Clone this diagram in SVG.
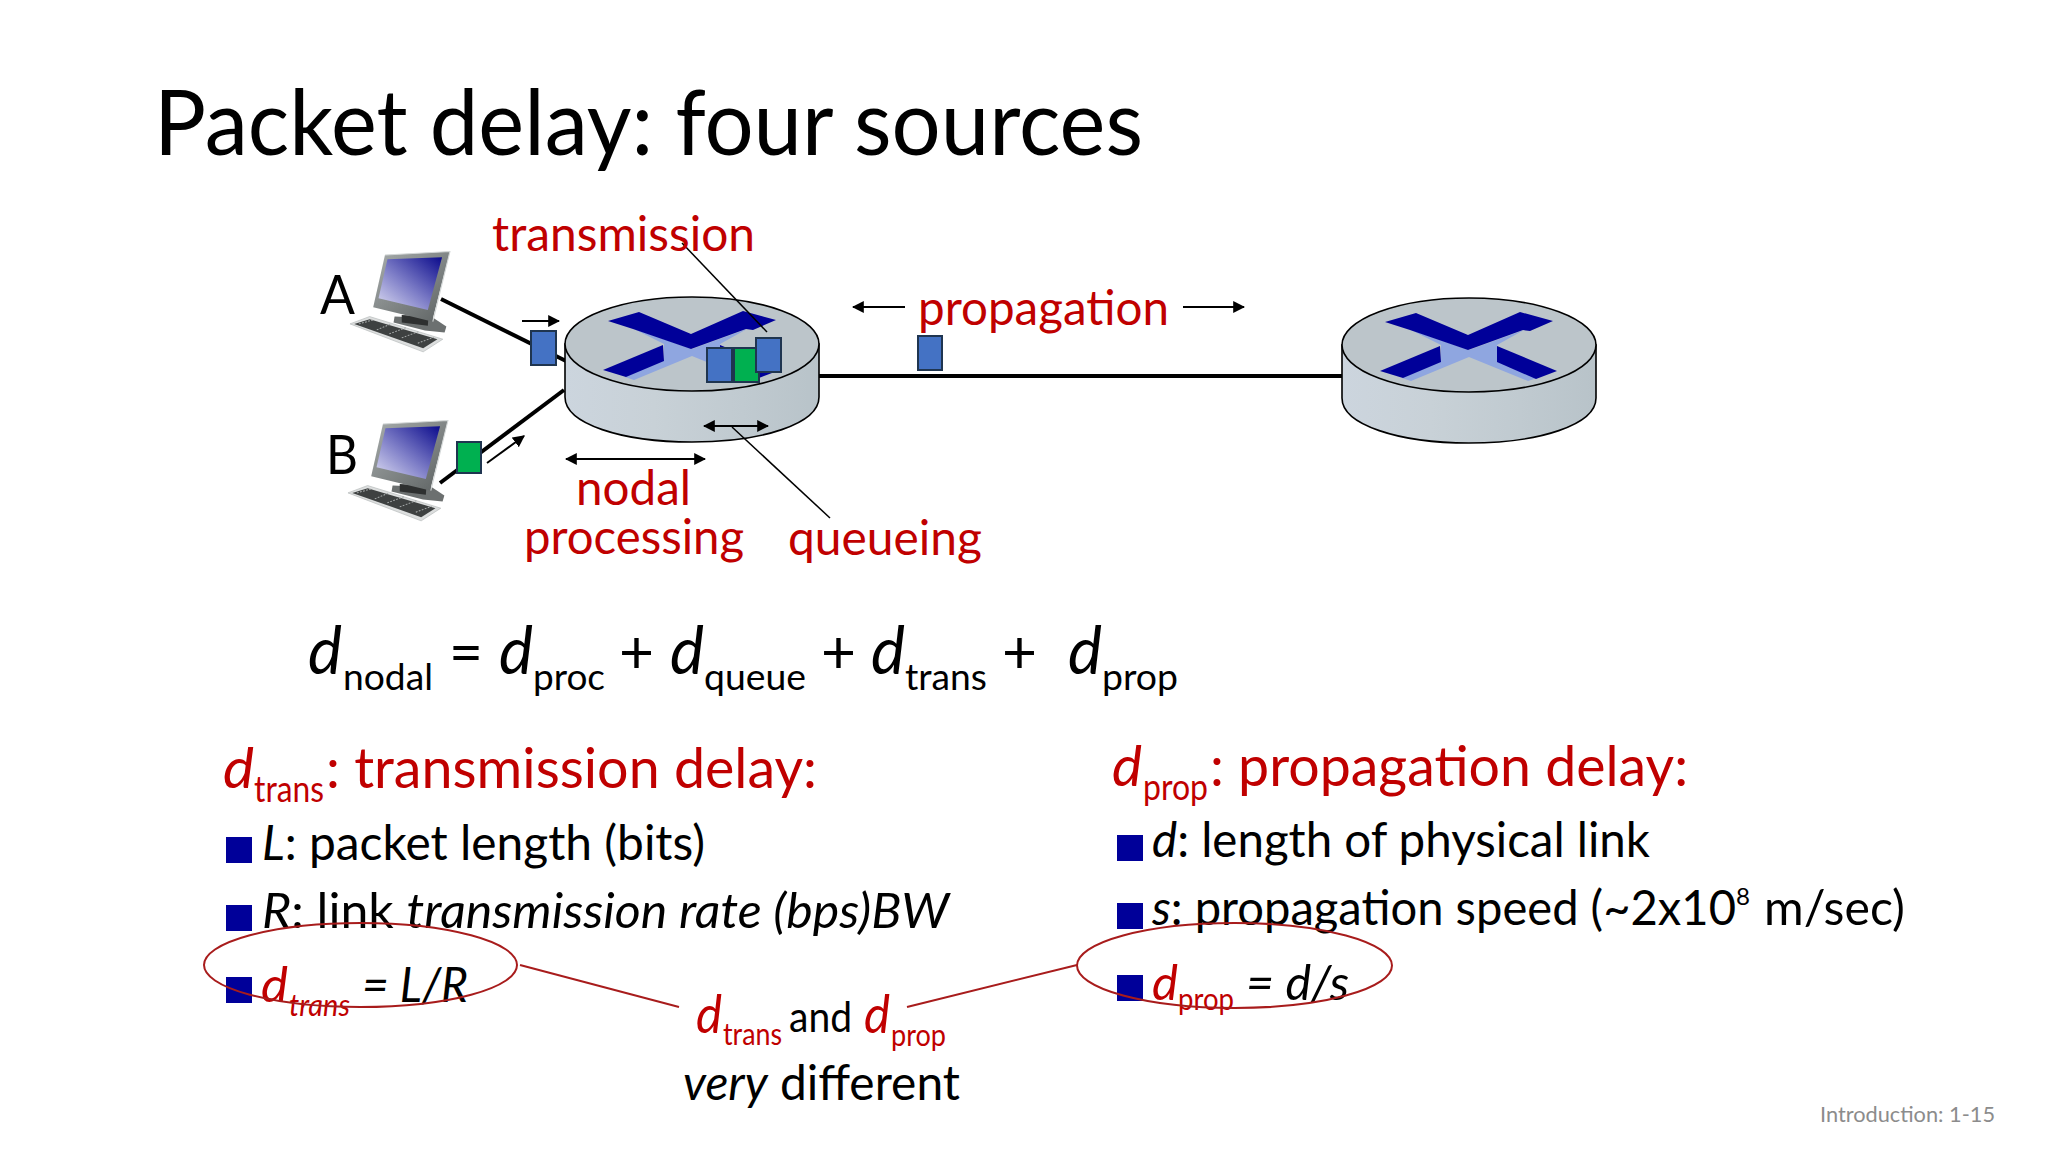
<svg xmlns="http://www.w3.org/2000/svg" xmlns:xlink="http://www.w3.org/1999/xlink" width="2048" height="1152" viewBox="0 0 2048 1152">
<style>
text{font-family:Lato,"Open Sans","Liberation Sans",sans-serif;fill:#000;}
.r{fill:#c00000}
.i{font-style:italic}
.t{font-size:48px}
.h{font-size:56px}
.b{font-size:48px}
.s{font-size:36px}
.s2{font-size:31px}
.e{font-size:66px}
.d5{font-size:52px}
.op{font-size:60px}
.bul{fill:#000099}
.pb{fill:#4472c4;stroke:#1f3550;stroke-width:2}
.pg{fill:#00b050;stroke:#1f3550;stroke-width:2}
.lnk{stroke:#000;stroke-width:4;fill:none}
.thin{stroke:#000;stroke-width:1.5;fill:none}
.arr{stroke:#000;stroke-width:2;fill:none}
.ov{fill:none;stroke:#a81c1c;stroke-width:2}
.cl{stroke:#a81c1c;stroke-width:2;fill:none}
</style>
<defs>
<marker id="ah" viewBox="0 0 10 10" refX="9" refY="5" markerWidth="6" markerHeight="6" orient="auto-start-reverse"><path d="M0 0L10 5L0 10z" fill="#000"/></marker>
<linearGradient id="side" x1="0" x2="1" y1="0" y2="0"><stop offset="0" stop-color="#ccd5de"/><stop offset=".35" stop-color="#c8d1d7"/><stop offset=".7" stop-color="#c0cad0"/><stop offset="1" stop-color="#b8c3c9"/></linearGradient>
<linearGradient id="scr" x1="1" y1="0" x2="0" y2="1"><stop offset="0" stop-color="#0b0b8c"/><stop offset=".55" stop-color="#7f7fc8"/><stop offset="1" stop-color="#dcdcf2"/></linearGradient>
<linearGradient id="bez" x1="0" y1="0" x2="1" y2="1"><stop offset="0" stop-color="#a8adad"/><stop offset="1" stop-color="#5c6161"/></linearGradient>
<g id="router">
<path d="M-127 0V53C-127 80-70 98 0 98S127 80 127 53V0z" fill="url(#side)" stroke="#000" stroke-width="1.6"/>
<ellipse cx="0" cy="0" rx="127" ry="47" fill="#bcc5ca" stroke="#000" stroke-width="1.6"/>
<polygon points="-58,-15 0,5 55,-15 28,0 28,16 68,33 59,36 0,12 -58,36 -67,33 -28,16 -28,0" fill="#8fa6e0"/>
<polygon points="-84,-23 -53,-32 -1,-10 51,-33 84,-24 61,-14 54,-15 -1,5 -59,-15" fill="#000099"/>
<polygon points="-89,26 -29,1 -28,17 -66,33" fill="#000099"/>
<polygon points="28,1 88,26 67,34 28,17" fill="#000099"/>
</g>
<g id="pc">
<polygon points="265,350 375,355 410,380 405,398 350,392 262,368" fill="#6c7070"/>
<polygon points="285,345 360,350 358,378 285,368" fill="#2e3030"/>
<polygon points="238,165 420,155 370,365 205,322" fill="url(#bez)"/>
<path d="M238 165L420 155L372 365" fill="none" stroke="#d4d8d8" stroke-width="3"/>
<polygon points="245,178 398,172 358,330 220,295" fill="url(#scr)"/>
<polygon points="140,372 195,350 400,418 345,456" fill="#dcdede" stroke="#b8bcbc" stroke-width="2"/>
<polygon points="152,372 195,358 385,418 345,445" fill="#3e4141"/>
<path d="M165 372L205 360M215 390L255 372M250 402L300 382M285 414L335 394M330 430L375 412" stroke="#a8acac" stroke-width="3" stroke-dasharray="5 4" fill="none"/>
</g>
</defs>

<text x="154" y="155" font-size="92" textLength="989" lengthAdjust="spacingAndGlyphs">Packet delay: four sources</text>

<g id="connectors">
<path class="lnk" d="M441 299L566 361"/>
<path class="lnk" d="M440 483L564 390"/>
<path class="lnk" d="M819 376H1344"/>
</g>

<g id="router-1"><use xlink:href="#router" x="692" y="344"/></g>
<g id="router-2"><use xlink:href="#router" x="1469" y="345"/></g>
<g id="host-a"><use xlink:href="#pc" transform="translate(300,200) scale(.357,.333)"/><text x="320" y="314" font-size="54" textLength="35" lengthAdjust="spacingAndGlyphs">A</text></g>
<g id="host-b"><use xlink:href="#pc" transform="translate(298,369) scale(.357,.333)"/><text x="326" y="474" font-size="54" textLength="32" lengthAdjust="spacingAndGlyphs">B</text></g>

<g id="packets">
<rect class="pb" x="531" y="331" width="25" height="34"/>
<rect class="pg" x="457" y="442" width="24" height="31"/>
<rect class="pb" x="707" y="348" width="25" height="34"/>
<rect class="pg" x="734" y="348" width="25" height="34"/>
<rect class="pb" x="756" y="338" width="25" height="34"/>
<rect class="pb" x="918" y="336" width="24" height="34"/>
</g>

<g id="annotations">
<path class="arr" marker-end="url(#ah)" d="M522 321H559"/>
<path class="arr" marker-end="url(#ah)" d="M487 463L524 436"/>
<path class="arr" marker-start="url(#ah)" marker-end="url(#ah)" d="M566 459H705"/>
<path class="arr" marker-start="url(#ah)" marker-end="url(#ah)" d="M704 426H768"/>
<path class="thin" d="M682 243L767 332"/>
<path class="thin" d="M732 427L830 518"/>
<path class="arr" marker-end="url(#ah)" d="M905 307H853"/>
<path class="arr" marker-end="url(#ah)" d="M1183 307H1244"/>
</g>

<g id="labels">
<text class="t r" x="492" y="251" textLength="263" lengthAdjust="spacingAndGlyphs">transmission</text>
<text class="t r" x="918" y="325" textLength="251" lengthAdjust="spacingAndGlyphs">propagation</text>
<text class="t r" x="576" y="505" textLength="115" lengthAdjust="spacingAndGlyphs">nodal</text>
<text class="t r" x="524" y="554" textLength="220" lengthAdjust="spacingAndGlyphs">processing</text>
<text class="t r" x="788" y="555" textLength="194" lengthAdjust="spacingAndGlyphs">queueing</text>
</g>

<g id="equation">
<text class="e i" x="308" y="674" textLength="34" lengthAdjust="spacingAndGlyphs">d</text>
<text class="s" x="343" y="690" textLength="90" lengthAdjust="spacingAndGlyphs">nodal</text>
<text class="op" x="449" y="673" textLength="34" lengthAdjust="spacingAndGlyphs">=</text>
<text class="e i" x="499" y="674" textLength="34" lengthAdjust="spacingAndGlyphs">d</text>
<text class="s" x="533" y="690" textLength="72" lengthAdjust="spacingAndGlyphs">proc</text>
<text class="op" x="619" y="673" textLength="35" lengthAdjust="spacingAndGlyphs">+</text>
<text class="e i" x="670" y="674" textLength="34" lengthAdjust="spacingAndGlyphs">d</text>
<text class="s" x="704" y="690" textLength="102" lengthAdjust="spacingAndGlyphs">queue</text>
<text class="op" x="821" y="673" textLength="35" lengthAdjust="spacingAndGlyphs">+</text>
<text class="e i" x="871" y="674" textLength="34" lengthAdjust="spacingAndGlyphs">d</text>
<text class="s" x="905" y="690" textLength="82" lengthAdjust="spacingAndGlyphs">trans</text>
<text class="op" x="1002" y="673" textLength="35" lengthAdjust="spacingAndGlyphs">+</text>
<text class="e i" x="1068" y="674" textLength="34" lengthAdjust="spacingAndGlyphs">d</text>
<text class="s" x="1102" y="690" textLength="76" lengthAdjust="spacingAndGlyphs">prop</text>
</g>

<g id="trans-delay">
<text class="h r i" x="223" y="788" textLength="31" lengthAdjust="spacingAndGlyphs">d</text>
<text class="s r" x="254" y="802" textLength="70" lengthAdjust="spacingAndGlyphs">trans</text>
<text class="h r" x="326" y="788" textLength="491" lengthAdjust="spacingAndGlyphs">: transmission delay:</text>
<rect class="bul" x="226" y="837" width="26" height="26"/>
<text class="b" x="262" y="860" textLength="443" lengthAdjust="spacingAndGlyphs"><tspan class="i">L</tspan>: packet length (bits)</text>
<rect class="bul" x="226" y="905" width="26" height="26"/>
<text class="b i" x="262" y="928" textLength="687" lengthAdjust="spacingAndGlyphs">R<tspan font-style="normal">: link </tspan>transmission rate (bps)BW</text>
<rect class="bul" x="226" y="977" width="26" height="26"/>
<text class="b r i" x="261" y="1002" textLength="27" lengthAdjust="spacingAndGlyphs">d</text>
<text class="s2 r i" x="289" y="1016" textLength="61" lengthAdjust="spacingAndGlyphs">trans</text>
<text class="b i" x="362" y="1002" textLength="106" lengthAdjust="spacingAndGlyphs">= L/R</text>
<ellipse class="ov" cx="360.5" cy="965" rx="156.5" ry="42"/>
</g>

<g id="prop-delay">
<text class="h r i" x="1112" y="786" textLength="30" lengthAdjust="spacingAndGlyphs">d</text>
<text class="s r" x="1143" y="800" textLength="65" lengthAdjust="spacingAndGlyphs">prop</text>
<text class="h r" x="1210" y="786" textLength="478" lengthAdjust="spacingAndGlyphs">: propagation delay:</text>
<rect class="bul" x="1117" y="835" width="26" height="26"/>
<text class="b" x="1152" y="857" textLength="498" lengthAdjust="spacingAndGlyphs"><tspan class="i">d</tspan>: length of physical link</text>
<rect class="bul" x="1117" y="903" width="26" height="26"/>
<text class="b" x="1152" y="925" textLength="584" lengthAdjust="spacingAndGlyphs"><tspan class="i">s</tspan>: propagation speed (~2x10</text>
<text font-size="24" x="1736" y="905" textLength="14" lengthAdjust="spacingAndGlyphs">8</text>
<text class="b" x="1764" y="925" textLength="141" lengthAdjust="spacingAndGlyphs">m/sec)</text>
<rect class="bul" x="1117" y="975" width="26" height="26"/>
<text class="b r i" x="1152" y="1000" textLength="26" lengthAdjust="spacingAndGlyphs">d</text>
<text class="s2 r" x="1178" y="1010" textLength="56" lengthAdjust="spacingAndGlyphs">prop</text>
<text class="b i" x="1246" y="1000" textLength="103" lengthAdjust="spacingAndGlyphs">= d/s</text>
<ellipse class="ov" cx="1234.5" cy="965.5" rx="157.5" ry="42.5"/>
</g>

<g id="callout">
<path class="cl" d="M520 965L679 1007"/>
<path class="cl" d="M907 1007L1077 965"/>
<text class="d5 r i" x="696" y="1033" textLength="26" lengthAdjust="spacingAndGlyphs">d</text>
<text class="s2 r" x="723" y="1045" textLength="59" lengthAdjust="spacingAndGlyphs">trans</text>
<text class="s" x="789" y="1032" font-size="40" textLength="63" lengthAdjust="spacingAndGlyphs" style="font-size:42px">and</text>
<text class="d5 r i" x="864" y="1033" textLength="26" lengthAdjust="spacingAndGlyphs">d</text>
<text class="s2 r" x="891" y="1046" textLength="55" lengthAdjust="spacingAndGlyphs">prop</text>
<text class="b" x="683" y="1100" textLength="277" lengthAdjust="spacingAndGlyphs"><tspan class="i">very</tspan> different</text>
</g>

<text x="1820" y="1122" font-size="21" style="fill:#8c8c8c" textLength="175" lengthAdjust="spacingAndGlyphs">Introduction: 1-15</text>
</svg>
